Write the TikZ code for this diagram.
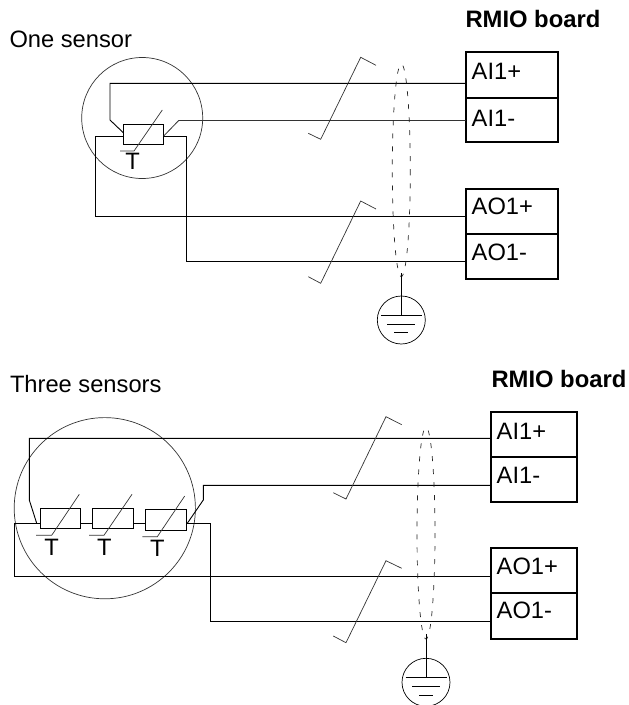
\documentclass[tikz,border=0pt]{standalone}
\usepackage{fontspec}
\setmainfont{Liberation Sans}
\usetikzlibrary{calc}
\tikzset{
  wire/.style={line width=0.9pt,black,line join=miter},
  thin wire/.style={line width=0.7pt,black!80},
  shield/.style={line width=0.7pt,black!85,dash pattern=on 5pt off 8pt},
  cell/.style={draw,line width=1.9pt,rectangle,inner sep=0pt,outer sep=0pt,minimum width=#1},
  sensorbox/.style={draw,line width=0.9pt,rectangle,inner sep=0pt,outer sep=0pt},
  gndcircle/.style={draw,line width=0.7pt,circle,inner sep=0pt,outer sep=0pt,minimum size=48pt},
  sensorcircle/.style={draw,line width=0.7pt,black!80,circle,inner sep=0pt,outer sep=0pt},
  lbl/.style={anchor=base west,inner sep=0pt,outer sep=0pt,font=\fontsize{23.7}{27}\selectfont},
  tlbl/.style={anchor=base,inner sep=0pt,outer sep=0pt,font=\fontsize{23.7}{27}\selectfont},
  title/.style={lbl,font=\fontsize{23.8}{27}\selectfont\bfseries}
}
\begin{document}
\begin{tikzpicture}[x=1pt,y=-1pt]
\useasboundingbox (0,0) rectangle (629,705);

% ---------- One sensor ----------
\node[title] (t1) at (465.5,27.5) {RMIO board};
\node[lbl] (s1) at (9.5,47) {One sensor};
\node[sensorcircle,minimum size=121pt] (c1) at (142.2,118) {};
\node[sensorbox,minimum width=40.4pt,minimum height=20.3pt] (r1) at (143.5,134.2) {};
\node[tlbl] (T1) at (132.7,169.3) {T};
\node[cell=92pt,minimum height=45.4pt] (ai1p) at (511.7,75) {};
\node[cell=92pt,minimum height=44.6pt] (ai1m) at (511.7,120) {};
\node[cell=92pt,minimum height=44.4pt] (ao1p) at (511.7,211.5) {};
\node[cell=92pt,minimum height=45pt] (ao1m) at (511.7,256.2) {};
\node[lbl] at (471.7,79.3) {AI1+};
\node[lbl] at (471.7,126) {AI1-};
\node[lbl] at (471.7,214.3) {AO1+};
\node[lbl] at (471.7,260) {AO1-};

\draw[wire] (r1.west |- 0,132.7) -- (110,120) -- (110,83.3) -- (ai1p.west |- 0,83.3);
\draw[thin wire,line width=0.8pt] (r1.east |- 0,136) -- (178.7,120.5) -- (ai1m.west |- 0,120.5);
\draw[wire] (r1.west |- 0,136.3) -- (95.3,136.3) -- (95.3,216) -- (ao1p.west |- 0,216);
\draw[wire] (r1.east |- 0,136.3) -- (186.3,136.3) -- (186.3,261.3) -- (ao1m.west |- 0,261.3);
\draw[thin wire] (162.3,110) -- (134,151) -- (120,151);

\draw[thin wire] (376,65.3) -- (360.7,57.3) -- (320.7,139.3) -- (308.3,133.3);
\draw[thin wire] (376,209) -- (360.7,201) -- (320.7,283.3) -- (308.3,276.7);
\draw[shield] (401.3,170.3) ellipse [x radius=9,y radius=106.3];
\node[gndcircle] (g1) at (401.3,320) {};
\coordinate (g1top) at (401.3,273.3);
\draw[wire] (g1top) -- (g1.center |- 0,315);
\draw[wire] (381,315) -- (421.6,315);
\draw[wire] (387.3,324) -- (415.3,324);
\draw[wire] (394.3,332) -- (408.3,332);

% ---------- Three sensors ----------
\node[title] (t2) at (491.5,387.5) {RMIO board};
\node[lbl] (s2) at (10,392.5) {Three sensors};
\node[sensorcircle,minimum size=181.2pt] (c2) at (104.8,508.2) {};
\node[sensorbox,minimum width=40pt,minimum height=20pt] (ra) at (60.3,518.3) {};
\node[sensorbox,minimum width=41pt,minimum height=20pt] (rb) at (112.8,518.3) {};
\node[sensorbox,minimum width=41pt,minimum height=21pt] (rc) at (165.8,519.8) {};
\node[tlbl] (Ta) at (51.7,555) {T};
\node[tlbl] (Tb) at (104.3,555) {T};
\node[tlbl] (Tc) at (157.3,556.7) {T};
\node[cell=86pt,minimum height=44.7pt] (bi1p) at (533.7,434.3) {};
\node[cell=86pt,minimum height=45.6pt] (bi1m) at (533.7,479.5) {};
\node[cell=86pt,minimum height=44.7pt] (bo1p) at (533.7,570.3) {};
\node[cell=86pt,minimum height=46pt] (bo1m) at (533.7,615.7) {};
\node[lbl] at (496.7,439.3) {AI1+};
\node[lbl] at (496.7,483.3) {AI1-};
\node[lbl] at (496.7,574) {AO1+};
\node[lbl] at (496.7,618.7) {AO1-};

\draw[wire] (36.7,523.3) -- (29.3,500) -- (29.3,438.3) -- (bi1p.west |- 0,438.3);
\draw[wire] (187.3,523.3) -- (203.3,500) -- (203.3,485.3) -- (bi1m.west |- 0,485.3);
\draw[wire] (ra.west |- 0,523.3) -- (14.3,523.3) -- (14.3,576) -- (bo1p.west |- 0,576);
\draw[wire] (rc.east |- 0,523.3) -- (210.3,523.3) -- (210.3,621.3) -- (bo1m.west |- 0,621.3);
\draw[wire] (ra.east |- 0,523.3) -- (rb.west |- 0,523.3);
\draw[wire] (rb.east |- 0,523.3) -- (rc.west |- 0,523.3);
\draw[thin wire] (79.3,494.3) -- (51.7,535.3) -- (36,535.3);
\draw[thin wire] (132,494.3) -- (104,535.3) -- (89,535.3);
\draw[thin wire] (184.7,496) -- (157.3,536.7) -- (142.3,536.7);

\draw[thin wire] (401.7,424.7) -- (386,416.7) -- (346,499) -- (333.3,492.7);
\draw[thin wire] (401.7,568.3) -- (386,560.7) -- (346,642.7) -- (333.3,636);
\draw[shield] (426,533.2) ellipse [x radius=9,y radius=105.8];
\node[gndcircle] (g2) at (426,682.3) {};
\coordinate (g2top) at (426,634);
\draw[wire] (g2top) -- (g2.center |- 0,677);
\draw[wire] (405.5,677) -- (446.5,677);
\draw[wire] (412,686) -- (440,686);
\draw[wire] (419,695) -- (433,695);
\end{tikzpicture}
\end{document}
